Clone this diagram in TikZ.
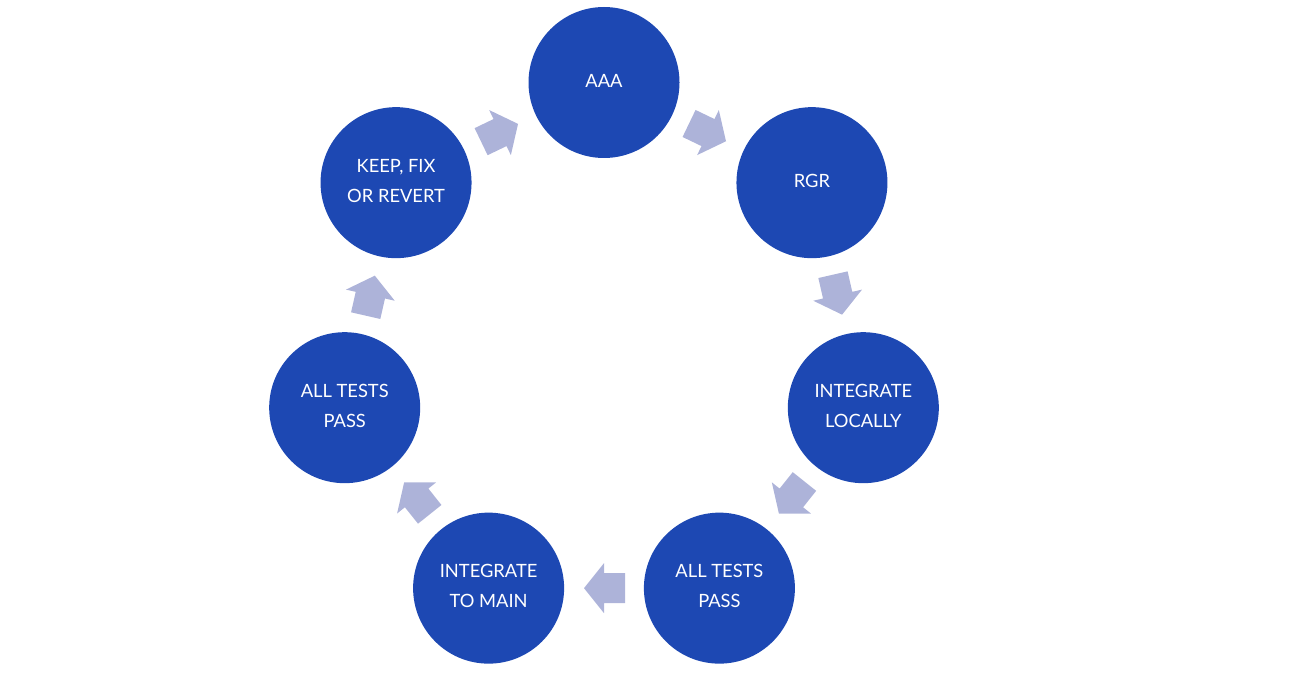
\documentclass[tikz,border=0pt]{standalone}
\usepackage{fontspec}
\setmainfont{Lato}
\usetikzlibrary{calc}
\definecolor{circ}{HTML}{1D48B3}
\definecolor{arr}{HTML}{ADB3D9}
\begin{document}
\begin{tikzpicture}[x=1pt,y=1pt,
  stage/.style={circle, fill=circ, minimum size=151pt, inner sep=0pt, text=white,
    align=center, font=\fontsize{18.3}{30}\selectfont},
  lbl/.style={text=white, align=center, font=\fontsize{18.3}{30}\selectfont, inner sep=0pt},
  blockarrow/.style={fill=arr, draw=none}]
\useasboundingbox (0,0) rectangle (1306,686);
\coordinate (c) at (604,337.5);
\node[stage] (n0) at ($(c)+(90:266)$) {};
\node[stage] (n1) at ($(c)+(38.5714:266)$) {};
\node[stage] (n2) at ($(c)+(-12.8571:266)$) {};
\node[stage] (n3) at ($(c)+(-64.2857:266)$) {};
\node[stage] (n4) at ($(c)+(-115.7143:266)$) {};
\node[stage] (n5) at ($(c)+(-167.1429:266)$) {};
\node[stage] (n6) at ($(c)+(141.4286:266)$) {};
\node[lbl] (t0) at ($(n0)+(0,2)$) {AAA};
\node[lbl] (t1) at ($(n1)+(0,2)$) {RGR};
\node[lbl] (t2) at ($(n2)+(0,2)$) {INTEGRATE\\LOCALLY};
\node[lbl] (t3) at ($(n3)+(0,2)$) {ALL TESTS\\PASS};
\node[lbl] (t4) at ($(n4)+(0,2)$) {INTEGRATE\\TO MAIN};
\node[lbl] (t5) at ($(n5)+(0,2)$) {ALL TESTS\\PASS};
\node[lbl] (t6) at ($(n6)+(0,2)$) {KEEP, FIX\\OR REVERT};
\foreach \k/\j in {0/1,1/2,2/3,3/4,4/5,5/6,6/0} {
  \pgfmathsetmacro\ang{-25.7143-51.4286*\k}
  \fill[blockarrow, shift={($(n\k)!0.5!(n\j)$)}, rotate=\ang]
    (-21,-15) -- (0,-15) -- (0,-25) -- (20,0) -- (0,25) -- (0,15) -- (-21,15) -- cycle;
}
\end{tikzpicture}
\end{document}
